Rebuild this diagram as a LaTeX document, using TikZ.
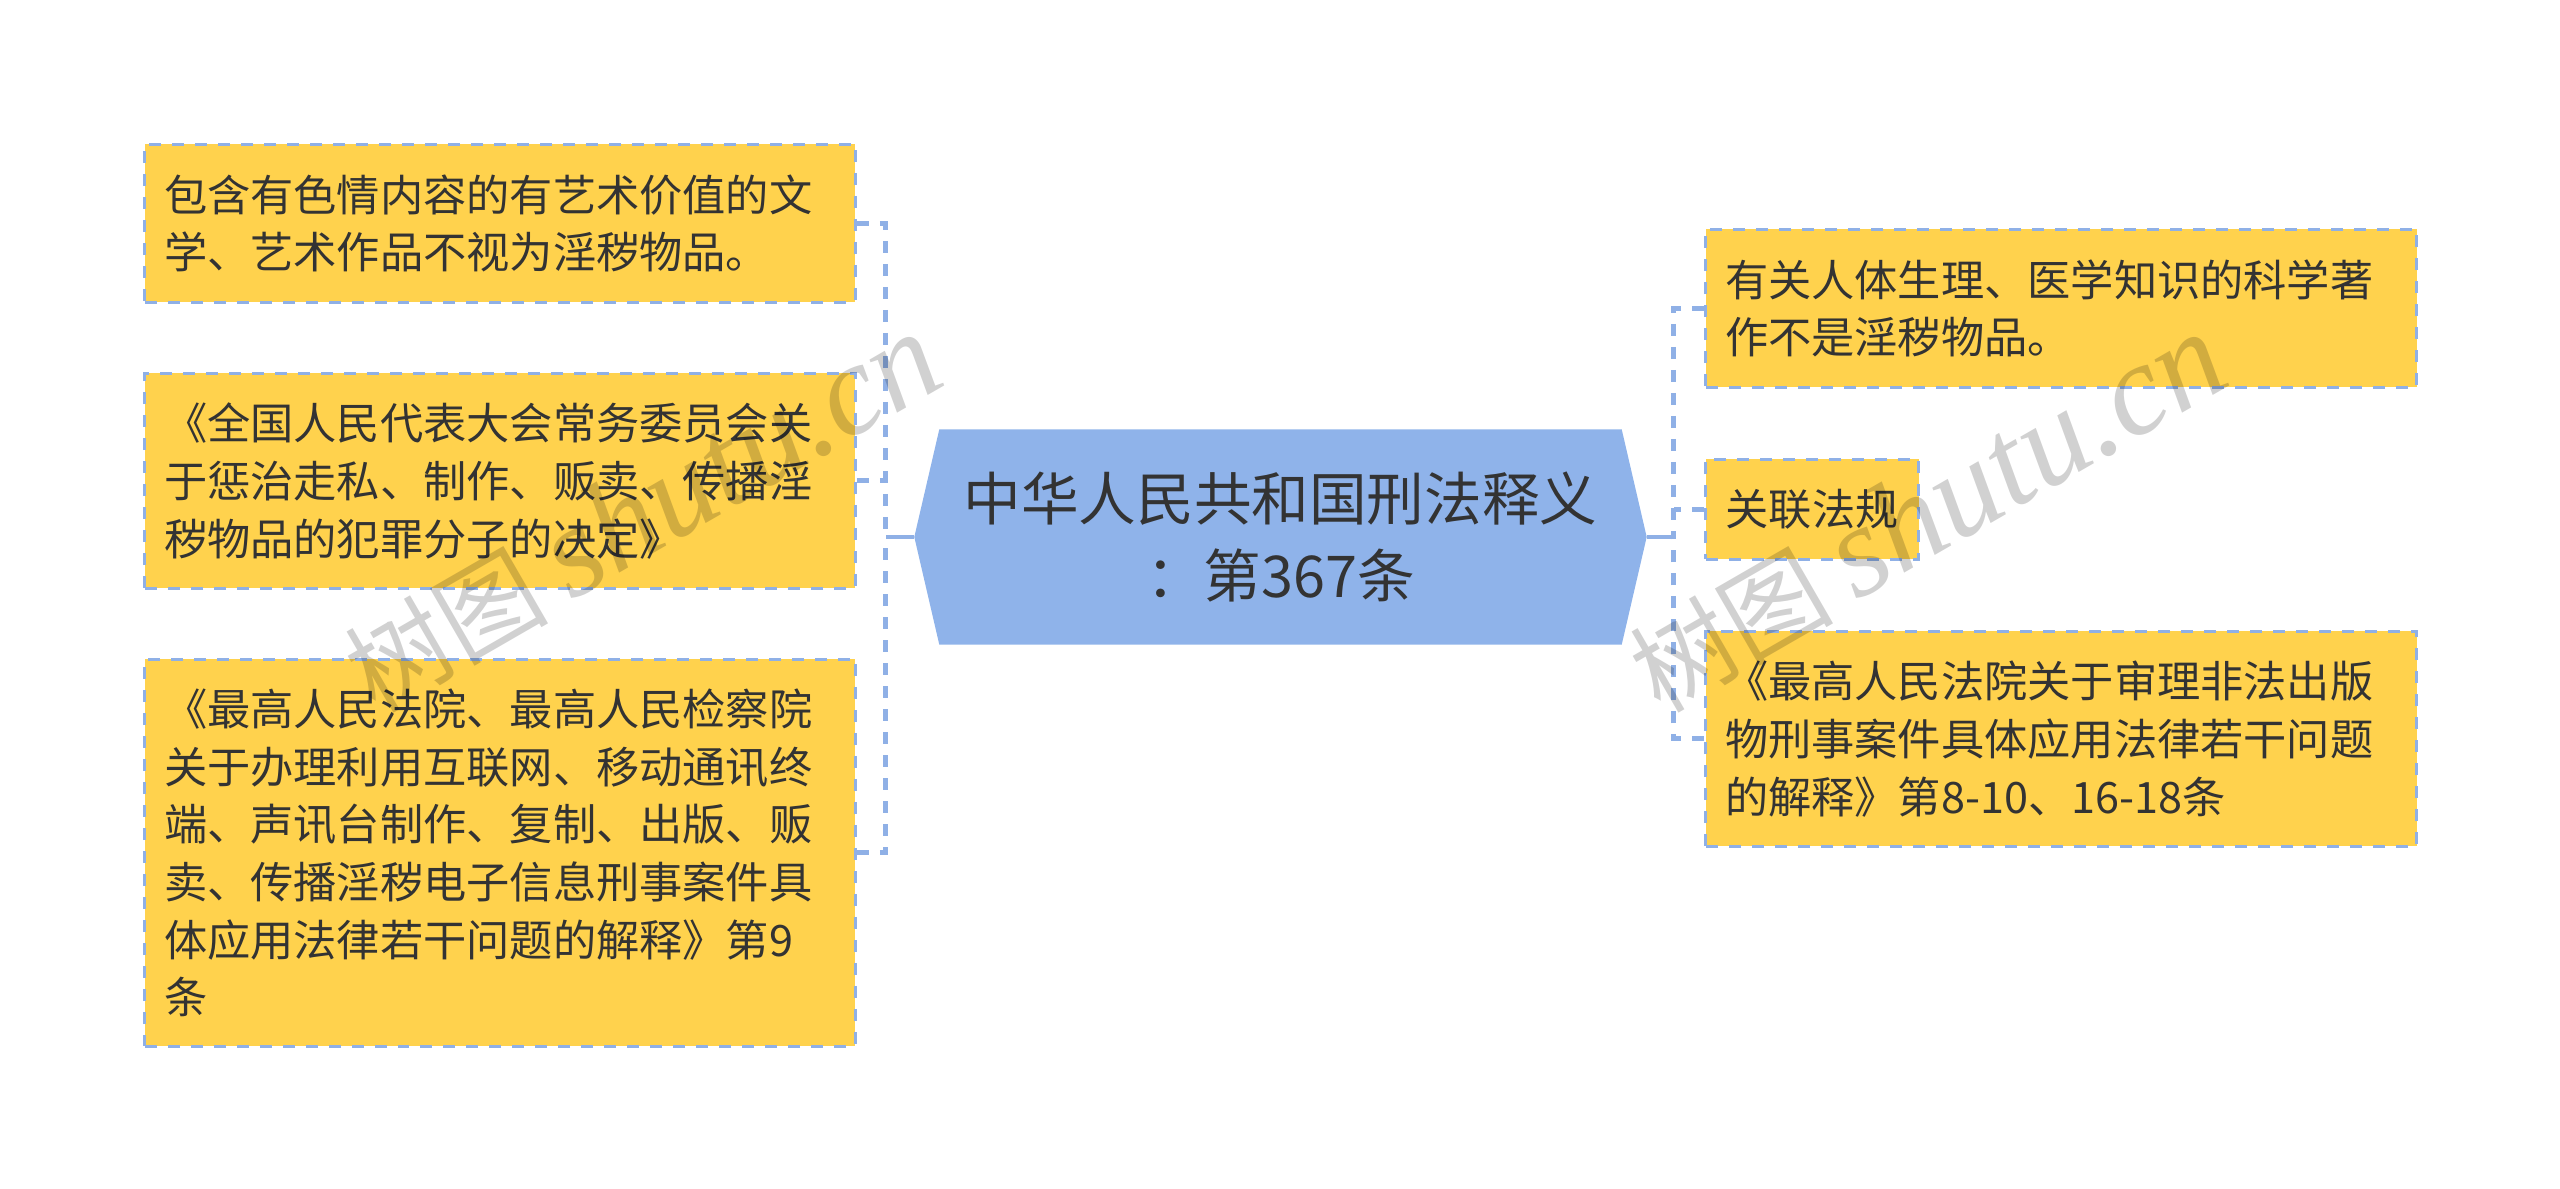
\documentclass[tikz,border=0pt]{standalone}
\usepackage{fontspec}
\setmainfont{Noto Sans CJK SC}
\newfontfamily\brandfont{Liberation Serif}
\usetikzlibrary{calc,backgrounds}

\definecolor{rootblue}{HTML}{8FB3EA}
\definecolor{leafyellow}{HTML}{FFD24D}
\definecolor{linkblue}{HTML}{8FB0E6}
\definecolor{inkgray}{HTML}{333333}

\tikzset{
  leaf/.style={anchor=north west, draw=linkblue, fill=leafyellow, line width=0.3mm, dash pattern=on 1.2mm off 1.1mm,
    inner xsep=1.95mm, inner ysep=0pt, align=left, text=inkgray, font=\fontsize{12.3}{16.4}\selectfont},
  wideleaf/.style={leaf, text width=67.2mm},
  root/.style={inner sep=0pt, minimum width=68.1mm, minimum height=21.4mm, align=center,
    text=inkgray, font=\fontsize{16.4}{21.9}\selectfont},
  link/.style={draw=linkblue, line width=0.5mm, dash pattern=on 1.2mm off 1.1mm},
  trunk/.style={draw=linkblue, line width=0.45mm},
  brand/.style={rotate=30, text=black, opacity=0.18}
}

\begin{document}
\begin{tikzpicture}[x=0.1mm,y=-0.1mm]

\useasboundingbox (0,0) rectangle (2560,1189);

\node[root] (law) at (1280.5,537) {中华人民共和国刑法释义\\：第367条};

\coordinate (lawL) at ($(law.west)+(-25,0)$);
\coordinate (lawR) at ($(law.east)+(25,0)$);
\coordinate (busL) at (885.5,537);
\coordinate (busR) at (1673.5,537);

\begin{pgfonlayer}{background}
\fill[rootblue] (law.north west) -- (lawL) -- (law.south west) -- (law.south east) -- (lawR) -- (law.north east) -- cycle;
\end{pgfonlayer}

\node[wideleaf, minimum height=15.8mm] (artwork) at (143,143) {包含有色情内容的有艺术价值的文\\学、艺术作品不视为淫秽物品。};
\node[wideleaf, minimum height=21.5mm] (decision) at (143,372) {《全国人民代表大会常务委员会关\\于惩治走私、制作、贩卖、传播淫\\秽物品的犯罪分子的决定》};
\node[wideleaf, minimum height=38.7mm] (internet) at (143,658) {《最高人民法院、最高人民检察院\\关于办理利用互联网、移动通讯终\\端、声讯台制作、复制、出版、贩\\卖、传播淫秽电子信息刑事案件具\\体应用法律若干问题的解释》第9\\条};

\node[wideleaf, minimum height=15.8mm] (science) at (1704,228) {有关人体生理、医学知识的科学著\\作不是淫秽物品。};
\node[leaf, minimum width=21.3mm, minimum height=10mm] (related) at (1704,458) {关联法规};
\node[wideleaf, minimum height=21.5mm] (publish) at (1704,630) {《最高人民法院关于审理非法出版\\物刑事案件具体应用法律若干问题\\的解释》第8-10、16-18条};

\draw[trunk] (lawL) -- (busL);
\draw[trunk] (lawR) -- (busR);

\draw[link] (artwork.east) -| (busL);
\draw[link] (decision.east) -- (decision.east -| busL);
\draw[link] (internet.east) -| (busL);
\draw[link] (science.west) -| (busR);
\draw[link] (related.west) -- (related.west -| busR);
\draw[link] (publish.west) -| (busR);

\node[brand] (brandL) at (642,513) {\fontsize{29}{29}\selectfont 树图 {\brandfont\itshape\fontsize{37}{37}\selectfont shutu.cn}};
\node[brand] (brandR) at (1927,513) {\fontsize{29}{29}\selectfont 树图 {\brandfont\itshape\fontsize{37}{37}\selectfont shutu.cn}};

\end{tikzpicture}
\end{document}
